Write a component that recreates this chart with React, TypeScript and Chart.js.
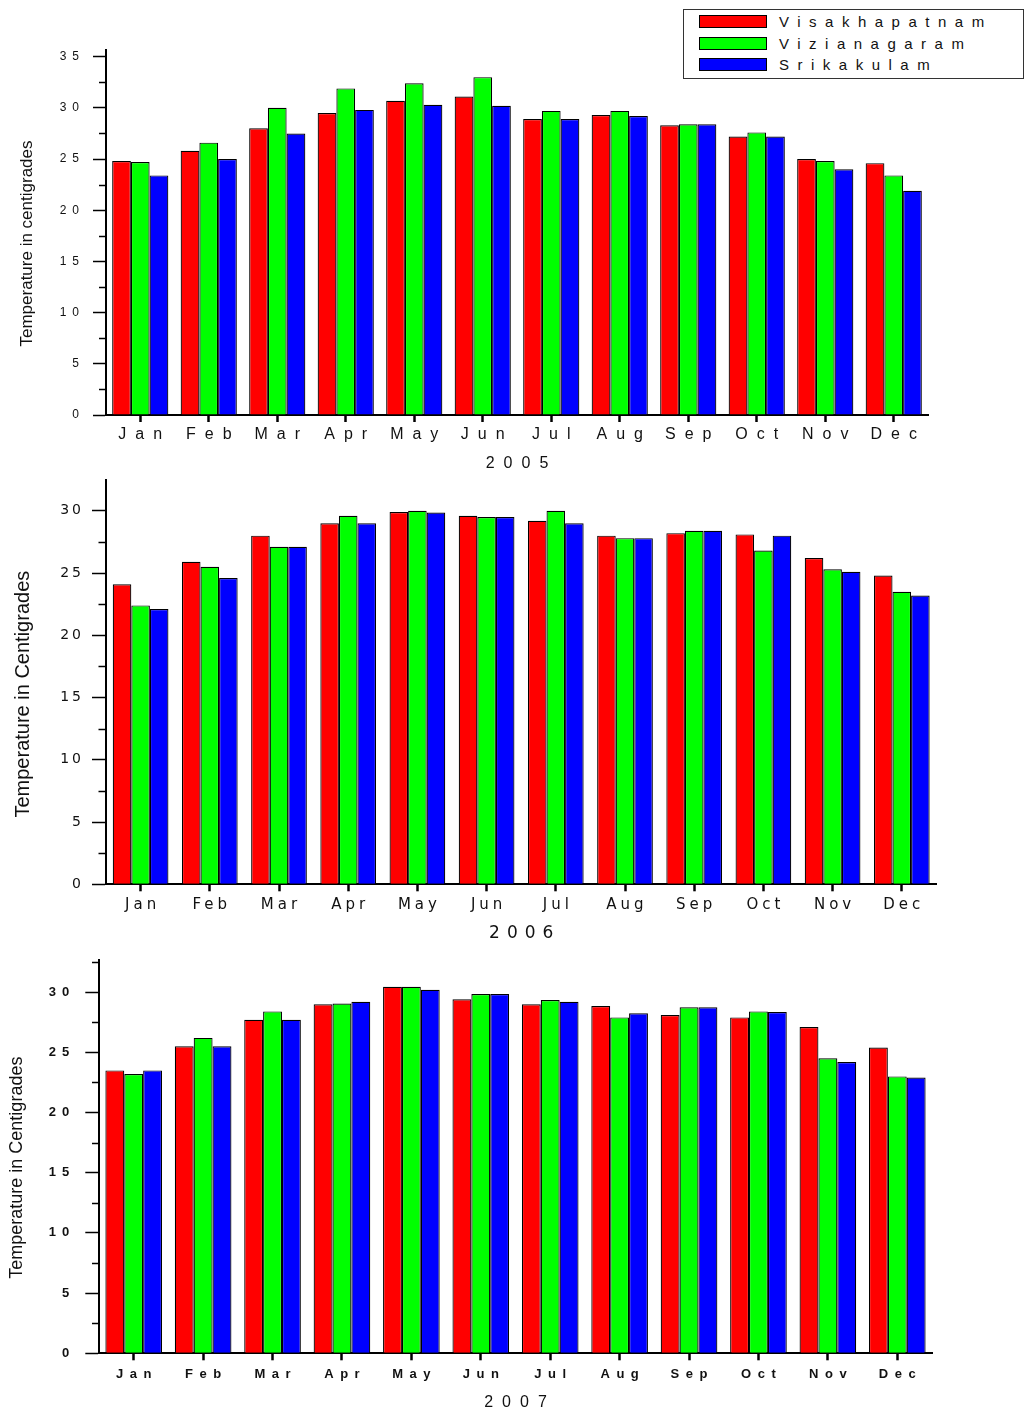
import React, { useEffect, useRef } from "react";
import { Chart, registerables } from "chart.js";

Chart.register(...registerables);

const MONTHS = ["Jan", "Feb", "Mar", "Apr", "May", "Jun", "Jul", "Aug", "Sep", "Oct", "Nov", "Dec"];
const SERIES_NAMES = ["Visakhapatnam", "Vizianagaram", "Srikakulam"];
const SERIES_COLORS = ["#ff0000", "#00ff00", "#0000ff"];

const VISAKHAPATNAM_2005 = [24.8, 25.8, 28.0, 29.5, 30.7, 31.1, 28.9, 29.3, 28.3, 27.2, 25.0, 24.6];
const VIZIANAGARAM_2005 = [24.7, 26.6, 30.0, 31.9, 32.4, 33.0, 29.7, 29.7, 28.4, 27.6, 24.8, 23.4];
const SRIKAKULAM_2005 = [23.4, 25.0, 27.5, 29.8, 30.3, 30.2, 28.9, 29.2, 28.4, 27.2, 24.0, 21.9];

const VISAKHAPATNAM_2006 = [24.1, 25.9, 28.0, 29.0, 29.9, 29.6, 29.2, 28.0, 28.2, 28.1, 26.2, 24.8];
const VIZIANAGARAM_2006 = [22.4, 25.5, 27.1, 29.6, 30.0, 29.5, 30.0, 27.8, 28.4, 26.8, 25.3, 23.5];
const SRIKAKULAM_2006 = [22.1, 24.6, 27.1, 29.0, 29.85, 29.5, 29.0, 27.8, 28.4, 28.0, 25.1, 23.2];

const VISAKHAPATNAM_2007 = [23.5, 25.5, 27.7, 29.0, 30.45, 29.4, 29.0, 28.85, 28.1, 27.9, 27.1, 25.4];
const VIZIANAGARAM_2007 = [23.2, 26.2, 28.4, 29.05, 30.45, 29.85, 29.35, 27.9, 28.75, 28.4, 24.5, 23.0];
const SRIKAKULAM_2007 = [23.5, 25.5, 27.7, 29.2, 30.2, 29.85, 29.2, 28.25, 28.75, 28.35, 24.2, 22.9];

const Y_TICKS_2005 = [0, 5, 10, 15, 20, 25, 30, 35];
const Y_MINOR_2005 = [2.5, 7.5, 12.5, 17.5, 22.5, 27.5, 32.5];
const Y_TICKS_2006 = [0, 5, 10, 15, 20, 25, 30];
const Y_MINOR_2006 = [2.5, 7.5, 12.5, 17.5, 22.5, 27.5, 32.5];
const Y_TICKS_2007 = [0, 5, 10, 15, 20, 25, 30];
const Y_MINOR_2007 = [2.5, 7.5, 12.5, 17.5, 22.5, 27.5, 32.5];

type Spec = {
  height: number;
  series: number[][];
  yMax: number;
  yTicks: number[];
  yMinor: number[];
  yTitle: string;
  xTitle: string;
  yWidth: number;
  padRight: number;
  padTop: number;
  xHeight: number;
  catPct: number;
  xFont: any;
  xPad: number;
  xSpacing: number;
  xTitleFont: any;
  xTitlePadBottom: number;
  xTitleSpacing: number;
  yFont: any;
  yPad: number;
  ySpacing: number;
  yTitleFont: any;
  yTitlePadTop: number;
  yTitleShift: number;
  majorLen: number;
  minorLen: number;
};

function patch(scale: any, name: string, spacing: number, dx: number, dy: number) {
  const key = "__patched_" + name;
  if (scale[key]) return;
  const orig = scale[name].bind(scale);
  scale[name] = (...args: any[]) => {
    const ctx = scale.ctx;
    ctx.save();
    ctx.letterSpacing = spacing + "px";
    ctx.translate(dx, dy);
    orig(...args);
    ctx.restore();
  };
  scale[key] = true;
}

function makeSpacingPlugin(spec: Spec) {
  return {
    id: "letterSpacing",
    beforeDraw(chart: any) {
      const x = chart.scales.x;
      const y = chart.scales.y;
      patch(x, "drawLabels", spec.xSpacing, spec.xSpacing / 2, 0);
      patch(x, "drawTitle", spec.xTitleSpacing, spec.xTitleSpacing / 2, 0);
      patch(y, "drawLabels", spec.ySpacing, spec.ySpacing, 0);
      patch(y, "drawTitle", 0, 0, spec.yTitleShift);
    },
  };
}

function makeMinorPlugin(spec: Spec) {
  return {
    id: "minorTicks",
    afterDraw(chart: any) {
      const y = chart.scales.y;
      const ctx = chart.ctx;
      ctx.save();
      ctx.strokeStyle = "#000";
      ctx.lineWidth = 1.5;
      spec.yMinor.forEach((v) => {
        if (v > spec.yMax) return;
        const py = Math.round(y.getPixelForValue(v)) + 0.5;
        ctx.beginPath();
        ctx.moveTo(y.right - spec.minorLen, py);
        ctx.lineTo(y.right, py);
        ctx.stroke();
      });
      ctx.restore();
    },
  };
}

function BarPanel({ spec, top }: { spec: Spec; top: number }) {
  const ref = useRef<HTMLCanvasElement | null>(null);
  useEffect(() => {
    if (!ref.current) return;
    const chart = new Chart(ref.current, {
      type: "bar",
      data: {
        labels: MONTHS,
        datasets: spec.series.map((d, i) => ({
          label: SERIES_NAMES[i],
          data: d,
          backgroundColor: SERIES_COLORS[i],
          borderColor: "#000",
          borderWidth: 1.2,
          barPercentage: 1,
          categoryPercentage: spec.catPct,
        })),
      },
      options: {
        responsive: false,
        animation: false,
        layout: { padding: { top: spec.padTop, right: spec.padRight, left: 0, bottom: 0 } },
        plugins: { legend: { display: false }, tooltip: { enabled: false } },
        scales: {
          x: {
            grid: {
              offset: false,
              drawOnChartArea: false,
              drawTicks: true,
              tickLength: 7,
              tickWidth: 2.5,
              tickColor: "#000",
              color: "#000",
            },
            border: { color: "#000", width: 2 },
            ticks: {
              color: "#111",
              font: spec.xFont,
              padding: spec.xPad,
              autoSkip: false,
              maxRotation: 0,
              minRotation: 0,
            },
            title: {
              display: true,
              text: spec.xTitle,
              color: "#111",
              font: spec.xTitleFont,
              padding: { top: 0, bottom: spec.xTitlePadBottom },
            },
            afterFit: (s: any) => {
              s.height = spec.xHeight;
              s.paddingLeft = 0;
              s.paddingRight = 0;
            },
          },
          y: {
            min: 0,
            max: spec.yMax,
            grid: {
              drawOnChartArea: false,
              drawTicks: true,
              tickLength: spec.majorLen,
              tickWidth: 1.5,
              tickColor: "#000",
              color: "#000",
            },
            border: { color: "#000", width: 2 },
            ticks: {
              color: "#111",
              font: spec.yFont,
              padding: spec.yPad,
            },
            title: {
              display: true,
              text: spec.yTitle,
              color: "#111",
              font: spec.yTitleFont,
              padding: { top: spec.yTitlePadTop, bottom: 0 },
            },
            afterBuildTicks: (s: any) => {
              s.ticks = spec.yTicks.map((v) => ({ value: v }));
            },
            afterFit: (s: any) => {
              s.width = spec.yWidth;
              s.paddingTop = 0;
              s.paddingBottom = 0;
            },
          },
        },
      },
      plugins: [makeSpacingPlugin(spec), makeMinorPlugin(spec)],
    } as any);
    return () => chart.destroy();
  }, [spec]);
  return (
    <canvas
      ref={ref}
      width={1029}
      height={spec.height}
      style={{ position: "absolute", left: 0, top, width: 1029, height: spec.height }}
    />
  );
}

const SPEC_2005: Spec = {
  height: 480,
  series: [VISAKHAPATNAM_2005, VIZIANAGARAM_2005, SRIKAKULAM_2005],
  yMax: 35.65,
  yTicks: Y_TICKS_2005,
  yMinor: Y_MINOR_2005,
  yTitle: "Temperature in centigrades",
  xTitle: "2005",
  yWidth: 106,
  padRight: 101,
  padTop: 50,
  xHeight: 65,
  catPct: 0.82,
  xFont: { family: "'Liberation Sans', Arial, sans-serif", size: 16 },
  xPad: 3.4,
  xSpacing: 9,
  xTitleFont: { family: "'Liberation Sans', Arial, sans-serif", size: 16 },
  xTitlePadBottom: 6.4,
  xTitleSpacing: 9,
  yFont: { family: "'Liberation Sans', Arial, sans-serif", size: 12 },
  yPad: 14,
  ySpacing: 6,
  yTitleFont: { family: "'Liberation Sans', Arial, sans-serif", size: 17 },
  yTitlePadTop: 16.8,
  yTitleShift: 11,
  majorLen: 13,
  minorLen: 7,
};

const SPEC_2006: Spec = {
  height: 475,
  series: [VISAKHAPATNAM_2006, VIZIANAGARAM_2006, SRIKAKULAM_2006],
  yMax: 32.47,
  yTicks: Y_TICKS_2006,
  yMinor: Y_MINOR_2006,
  yTitle: "Temperature in Centigrades",
  xTitle: "2006",
  yWidth: 106,
  padRight: 92.6,
  padTop: 5,
  xHeight: 65.7,
  catPct: 0.805,
  xFont: { family: "'DejaVu Sans', sans-serif", size: 15 },
  xPad: 4.7,
  xSpacing: 4,
  xTitleFont: { family: "'DejaVu Sans', sans-serif", size: 17 },
  xTitlePadBottom: 5.8,
  xTitleSpacing: 7,
  yFont: { family: "'DejaVu Sans', sans-serif", size: 14 },
  yPad: 11,
  ySpacing: 3,
  yTitleFont: { family: "'Liberation Sans', Arial, sans-serif", size: 20 },
  yTitlePadTop: 11,
  yTitleShift: 12,
  majorLen: 14,
  minorLen: 7.5,
};

const SPEC_2007: Spec = {
  height: 464,
  series: [VISAKHAPATNAM_2007, VIZIANAGARAM_2007, SRIKAKULAM_2007],
  yMax: 32.67,
  yTicks: Y_TICKS_2007,
  yMinor: Y_MINOR_2007,
  yTitle: "Temperature in Centigrades",
  xTitle: "2007",
  yWidth: 99,
  padRight: 97,
  padTop: 10,
  xHeight: 60.7,
  catPct: 0.816,
  xFont: { family: "'Liberation Sans', Arial, sans-serif", size: 13, weight: "bold" },
  xPad: 5.9,
  xSpacing: 6.5,
  xTitleFont: { family: "'Liberation Sans', Arial, sans-serif", size: 16 },
  xTitlePadBottom: 1.4,
  xTitleSpacing: 9,
  yFont: { family: "'Liberation Sans', Arial, sans-serif", size: 13, weight: "bold" },
  yPad: 16,
  ySpacing: 6,
  yTitleFont: { family: "'Liberation Sans', Arial, sans-serif", size: 18 },
  yTitlePadTop: 6.2,
  yTitleShift: 11,
  majorLen: 13.7,
  minorLen: 7,
};

function Legend() {
  const rows = [21, 43, 64];
  return (
    <div
      style={{
        position: "absolute",
        left: 683,
        top: 9,
        width: 339,
        height: 68,
        border: "1.3px solid #333",
        background: "#fff",
        fontFamily: "'Liberation Sans', Arial, sans-serif",
        fontSize: 15,
        color: "#111",
      }}
    >
      {SERIES_NAMES.map((name, i) => (
        <React.Fragment key={name}>
          <div
            style={{
              position: "absolute",
              left: 15,
              top: rows[i] - 9 - 7,
              width: 66,
              height: 11,
              background: SERIES_COLORS[i],
              border: "1.5px solid #000",
            }}
          />
          <div
            style={{
              position: "absolute",
              left: 95,
              top: rows[i] - 9 - 9,
              lineHeight: "18px",
              letterSpacing: "8.5px",
              whiteSpace: "nowrap",
            }}
          >
            {name}
          </div>
        </React.Fragment>
      ))}
    </div>
  );
}

export default function App() {
  return (
    <div style={{ position: "absolute", left: 0, top: 0, width: 1029, height: 1414, background: "#fff", overflow: "hidden" }}>
      <BarPanel spec={SPEC_2005} top={0} />
      <BarPanel spec={SPEC_2006} top={475} />
      <BarPanel spec={SPEC_2007} top={950} />
      <Legend />
    </div>
  );
}
